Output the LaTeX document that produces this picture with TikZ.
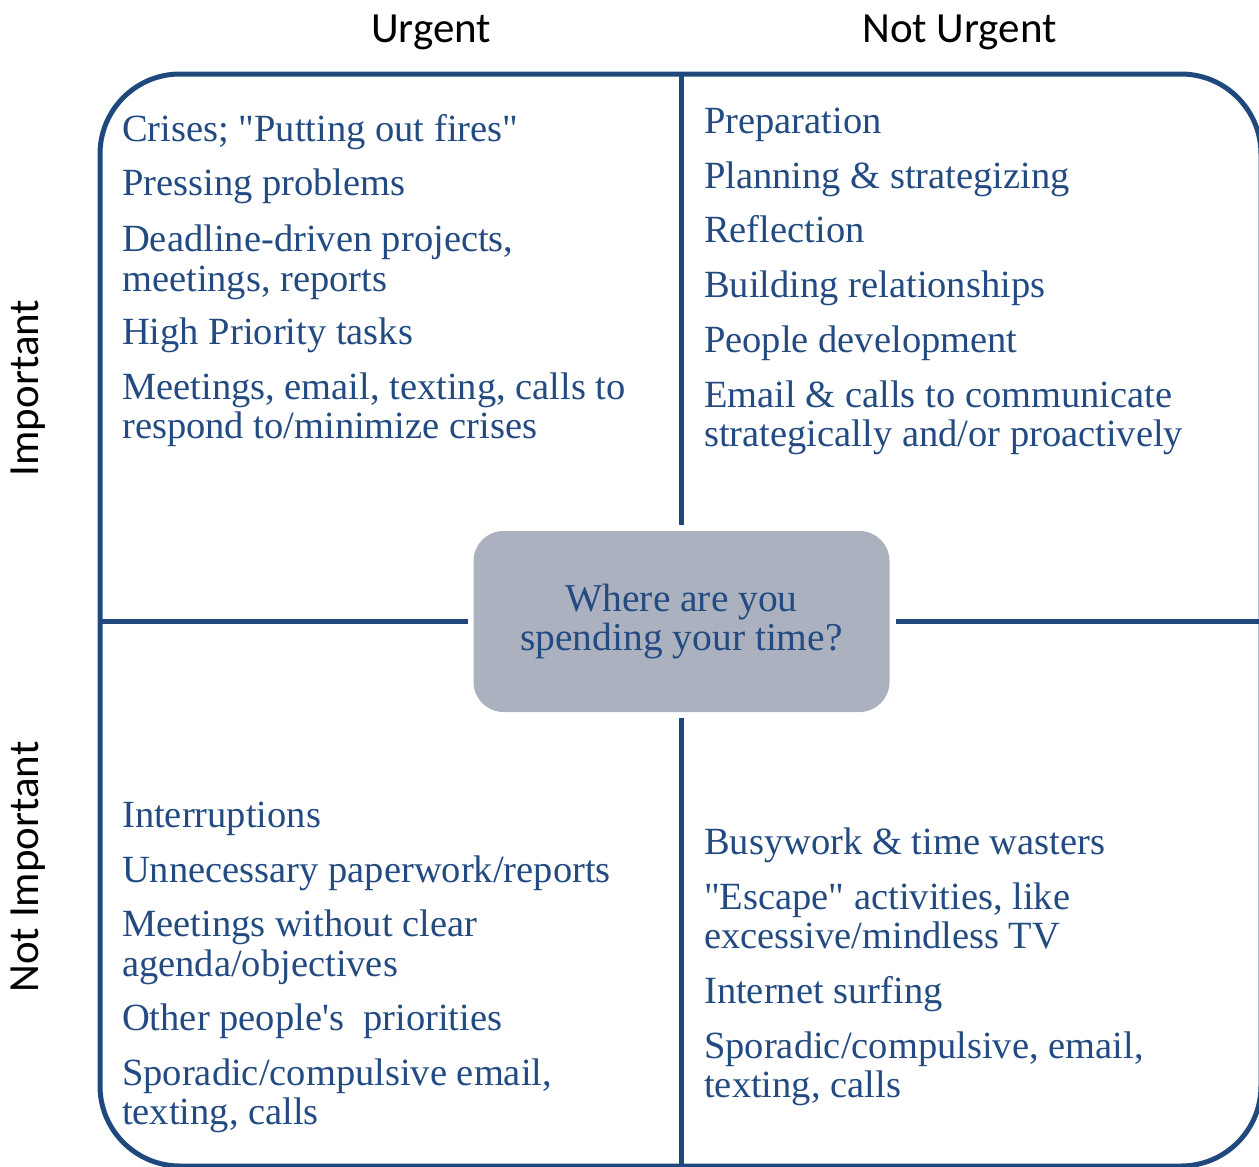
\documentclass[tikz,border=0pt]{standalone}
\usepackage{fontspec}
\setmainfont{Liberation Serif}[Ligatures=TeXOff]
\newfontfamily\headfont{Carlito}
\usetikzlibrary{positioning}
\definecolor{frameblue}{RGB}{31,73,125}
\definecolor{textblue}{RGB}{35,75,130}
\definecolor{boxgray}{RGB}{171,177,191}

\begin{document}
\begin{tikzpicture}[x=1pt, y=-1pt,
    frame/.style={draw=frameblue, line width=5pt, rounded corners=80pt},
    divider/.style={draw=frameblue, line width=5pt},
    hub/.style={rectangle, rounded corners=30pt, fill=boxgray, minimum width=416pt, minimum height=181pt, align=center, font=\fontsize{39.5}{39}\selectfont, text=textblue, outer sep=6pt},
    item/.style={anchor=base west, inner sep=0pt, font=\fontsize{38.5}{39}\selectfont, text=textblue},
    axis/.style={anchor=base, inner sep=0pt, font=\headfont\fontsize{43}{48}\selectfont}
]
\useasboundingbox (0,0) rectangle (1259,1167);

% outer frame and its mid points
\draw[frame] (100,74) rectangle (1261,1166);
\coordinate (top) at (681.5,74);
\coordinate (bottom) at (681.5,1166);
\coordinate (left) at (100,621.5);
\coordinate (right) at (1261,621.5);

% centre box
\node[hub] (hub) at (681.5,621.5) {Where are you\\spending your time?};

\draw[divider] (top) -- (hub);
\draw[divider] (bottom) -- (hub);
\draw[divider] (left) -- (hub);
\draw[divider] (right) -- (hub);

% headings
\node[axis] (urgent) at (431,42) {Urgent};
\node[axis] (noturgent) at (959.5,42) {Not Urgent};
\node[axis, rotate=90] (important) at (38,388) {Important};
\node[axis, rotate=90] (notimportant) at (38,867) {Not Important};

% upper left
\foreach \y/\t [count=\i] in {141/{Crises; "Putting out fires"}, 195/{Pressing problems},
    251/{Deadline-driven projects,}, 291/{meetings, reports}, 344/{High Priority tasks},
    399/{Meetings, email, texting, calls to}, 438/{respond to/minimize crises}}
  \node[item] (ul\i) at (122,\y) {\t};

% upper right
\foreach \y/\t [count=\i] in {133/{Preparation}, 188/{Planning \& strategizing},
    242/{Reflection}, 297/{Building relationships}, 352/{People development},
    407/{Email \& calls to communicate}, 446/{strategically and/or proactively}}
  \node[item] (ur\i) at (704,\y) {\t};

% lower left
\foreach \y/\t [count=\i] in {827/{Interruptions}, 882/{Unnecessary paperwork/reports},
    936/{Meetings without clear}, 976/{agenda/objectives},
    1030/{Other people's\ \ priorities}, 1085/{Sporadic/compulsive email,},
    1124/{texting, calls}}
  \node[item] (ll\i) at (122,\y) {\t};

% lower right
\foreach \y/\t [count=\i] in {854/{Busywork \& time wasters}, 909/{"Escape" activities, like},
    948/{excessive/mindless TV}, 1003/{Internet surfing},
    1058/{Sporadic/compulsive, email,}, 1097/{texting, calls}}
  \node[item] (lr\i) at (704,\y) {\t};
\end{tikzpicture}
\end{document}
